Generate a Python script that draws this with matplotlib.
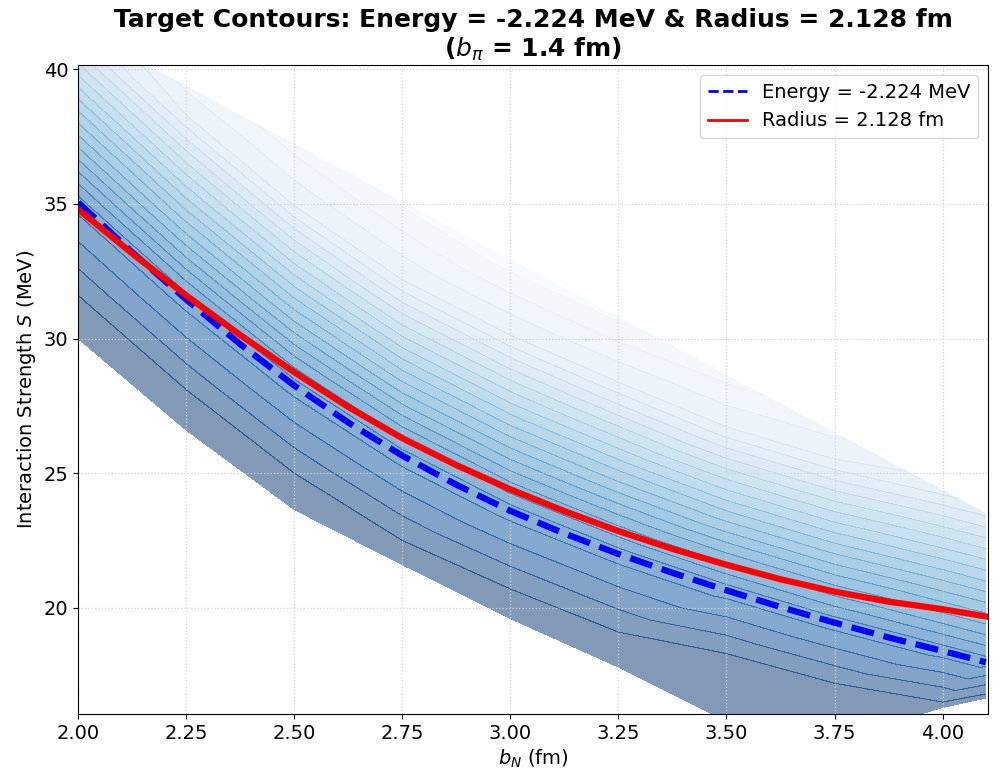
import matplotlib
matplotlib.use("Agg")
import numpy as np
import matplotlib.pyplot as plt
import matplotlib.tri as mtri
from matplotlib.lines import Line2D

# columns of the scanned band (b_N in fm)
b_cols = [2.0, 2.25, 2.5, 2.75, 3.0, 3.25, 3.5, 3.75, 4.0, 4.1]

# S (MeV) of the nodes in each column, bottom to top, with the energy (MeV) there
s_low  = [30.0, 26.6, 23.65, 21.6, 19.6, 17.8, 15.8, 15.1, 16.3, 16.65]
e_low  = [0.0, 0.0, 0.0, 0.0, 0.0, 0.0, 0.0, 0.0, 0.0, -0.3]
s_dark = [31.6, 28.1, 25.0, 22.5, 20.7, 19.1, 18.3, 17.2, 16.5, 16.8]
s_dash = [35.05, 31.45, 28.25, 25.65, 23.6, 22.0, 20.65, 19.45, 18.4, 17.98]
s_mid  = [38.45, 34.77, 31.5, 28.82, 26.77, 25.1, 23.6, 22.4, 21.42, 21.0]
s_last = [41.1, 38.29, 34.94, 32.18, 30.13, 28.38, 26.72, 25.52, 23.82, 23.0]
e_last = [-9.0, -10.0, -10.0, -10.0, -10.0, -10.0, -10.0, -10.0, -9.0, -8.5]
s_top  = [41.5, 39.36, 37.21, 35.07, 32.93, 30.79, 28.64, 26.5, 24.36, 23.5]
e_top  = [-9.45, -10.6, -11.2, -11.6, -11.8, -11.6, -11.2, -10.6, -9.7, -9.1]

e_dark = -0.5
e_target = -2.224
e_mid = -6.0

# target curves
b_line = [2.0, 2.125, 2.25, 2.375, 2.5, 2.625, 2.75, 2.875, 3.0, 3.125,
          3.25, 3.375, 3.5, 3.625, 3.75, 3.875, 4.0, 4.1]
s_energy = [35.05, 33.2, 31.45, 29.79, 28.25, 26.88, 25.65, 24.57, 23.6, 22.76,
            22.0, 21.3, 20.65, 20.03, 19.45, 18.9, 18.4, 17.98]
s_radius = [34.8, 33.16, 31.6, 30.13, 28.75, 27.46, 26.3, 25.3, 24.4, 23.59,
            22.85, 22.19, 21.6, 21.06, 20.6, 20.23, 19.95, 19.68]

rows_s = [s_low, s_dark, s_dash, s_mid, s_last, s_top]
rows_e = [e_low, [e_dark] * len(b_cols), [e_target] * len(b_cols),
          [e_mid] * len(b_cols), e_last, e_top]
n_rows = len(rows_s)

bx, sy, ez = [], [], []
for j, b in enumerate(b_cols):
    for k in range(n_rows):
        bx.append(b)
        sy.append(rows_s[k][j])
        ez.append(rows_e[k][j])

triangles = []
for j in range(len(b_cols) - 1):
    for k in range(n_rows - 1):
        a = j * n_rows + k
        c = (j + 1) * n_rows + k
        triangles.append([a, c, c + 1])
        triangles.append([a, c + 1, a + 1])

tri = mtri.Triangulation(bx, sy, triangles)
fill_levels = np.arange(-12.0, 0.01, 0.5)
line_levels = np.arange(-10.0, -0.49, 0.5)

fig, ax = plt.subplots(figsize=(10.02, 7.76), dpi=100)
fig.subplots_adjust(left=0.078, right=0.986, bottom=0.080, top=0.916)

ax.tricontourf(tri, ez, levels=fill_levels, cmap="Blues", alpha=0.5)
ax.tricontour(tri, ez, levels=line_levels, cmap="Blues", vmin=-12, vmax=0,
              linewidths=0.5, alpha=0.5)

ax.plot(b_line, s_energy, color="blue", linestyle="--", linewidth=4.5)
ax.plot(b_line, s_radius, color="red", linewidth=4.5)

ax.set_xlim(2.0, 4.105)
ax.set_ylim(16.06, 40.15)
ax.grid(True, linestyle=":", color="lightgray", linewidth=0.9)

ax.set_title("Target Contours: Energy = -2.224 MeV & Radius = 2.128 fm\n($b_\\pi$ = 1.4 fm)",
             fontsize=18, fontweight="bold")
ax.set_xlabel("$b_N$ (fm)", fontsize=14)
ax.set_ylabel("Interaction Strength $S$ (MeV)", fontsize=14)
ax.tick_params(labelsize=14)

handles = [Line2D([0], [0], color="blue", linestyle="--", lw=2),
           Line2D([0], [0], color="red", lw=2)]
ax.legend(handles, ["Energy = -2.224 MeV", "Radius = 2.128 fm"],
          loc="upper right", fontsize=14)

fig.savefig("out.png", dpi=100)
